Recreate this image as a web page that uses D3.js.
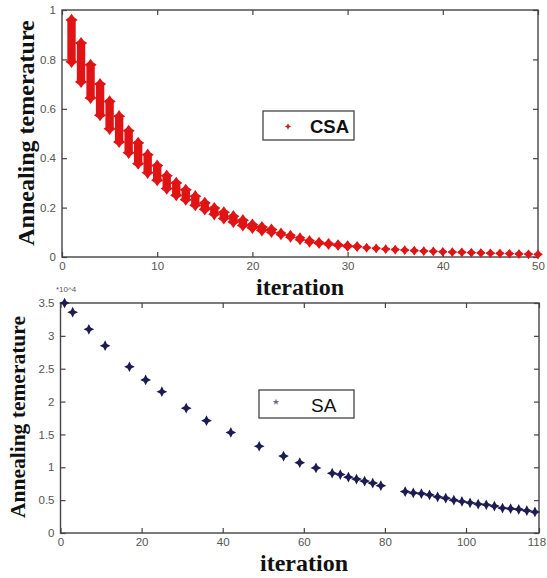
<!DOCTYPE html>
<html><head><meta charset="utf-8">
<script src="https://cdn.jsdelivr.net/npm/d3@7"></script>
<style>body{margin:0;background:#fff} svg{display:block}</style>
</head><body>
<svg id="c" width="547" height="578"></svg>
<script>
// ---- CSA (top): per-iteration range of annealing temperature across runs
const csaIter = [1,2,3,4,5,6,7,8,9,10,11,12,13,14,15,16,17,18,19,20,21,22,23,24,25,26,27,28,29,30,31,32,33,34,35,36,37,38,39,40,41,42,43,44,45,46,47,48,49,50];
const csaMax = [0.960,0.866,0.778,0.700,0.630,0.570,0.511,0.462,0.414,0.370,0.329,0.300,0.272,0.246,0.219,0.198,0.181,0.165,0.149,0.131,0.121,0.111,0.097,0.088,0.078,0.067,0.060,0.055,0.050,0.046,0.043,0.039,0.036,0.033,0.031,0.029,0.027,0.025,0.024,0.022,0.021,0.020,0.018,0.017,0.016,0.015,0.014,0.013,0.012,0.011];
const csaMin = [0.790,0.709,0.644,0.574,0.519,0.466,0.422,0.378,0.341,0.311,0.277,0.250,0.232,0.210,0.193,0.173,0.156,0.142,0.128,0.118,0.108,0.099,0.090,0.080,0.070,0.060,0.055,0.051,0.047,0.043,0.040,0.036,0.034,0.031,0.029,0.027,0.025,0.023,0.022,0.020,0.019,0.018,0.017,0.016,0.015,0.014,0.013,0.012,0.011,0.010];
const csaXTicks = [0,10,20,30,40,50];
const csaYTicks = [0,0.2,0.4,0.6,0.8,1];

// ---- SA (bottom): temperature (x 10^4) at recorded iterations
const saIter = [1,3,7,11,17,21,25,31,36,42,49,55,59,63,67,69,71,73,75,77,79,85,87,89,91,93,95,97,99,101,103,105,107,109,111,113,115,117];
const saTemp = [3.50,3.36,3.10,2.85,2.53,2.33,2.15,1.90,1.71,1.53,1.32,1.17,1.07,0.99,0.91,0.89,0.85,0.82,0.79,0.76,0.72,0.63,0.61,0.60,0.58,0.55,0.53,0.50,0.48,0.46,0.44,0.43,0.41,0.38,0.37,0.36,0.34,0.32];
const saXTicks = [0,20,40,60,80,100,118];
const saYTicks = [0,0.5,1,1.5,2,2.5,3,3.5];

const csaColor = "#e01414";
const saColor = "#1c1c52";
const frameColor = "#444";
const tickTextColor = "#555";

const svg = d3.select("#c");

// 4-pointed sparkle marker
function sparkleType(ratio) {
  return {
    draw(ctx, size) {
      const r = Math.sqrt(size) / 2, k = r * ratio;
      ctx.moveTo(0, -r); ctx.lineTo(k, -k); ctx.lineTo(r, 0); ctx.lineTo(k, k);
      ctx.lineTo(0, r); ctx.lineTo(-k, k); ctx.lineTo(-r, 0); ctx.lineTo(-k, -k); ctx.closePath();
    }
  };
}
const sparkle = sparkleType(0.34);

function frame(g, x, y, xTicks, yTicks, fmtX, fmtY) {
  const [x0, x1] = x.range(), [y0, y1] = y.range();
  g.append("rect").attr("x", x0).attr("y", y1).attr("width", x1 - x0).attr("height", y0 - y1)
    .attr("fill", "none").attr("stroke", frameColor).attr("stroke-width", 1.4);
  const bottom = g.append("g").attr("transform", `translate(0,${y0})`)
    .call(d3.axisBottom(x).tickValues(xTicks).tickSizeInner(-5).tickSizeOuter(0).tickPadding(5).tickFormat(fmtX));
  const top = g.append("g").attr("transform", `translate(0,${y1})`)
    .call(d3.axisTop(x).tickValues(xTicks).tickSizeInner(-5).tickSizeOuter(0).tickFormat(""));
  const left = g.append("g").attr("transform", `translate(${x0},0)`)
    .call(d3.axisLeft(y).tickValues(yTicks).tickSizeInner(-5).tickSizeOuter(0).tickPadding(6).tickFormat(fmtY));
  const right = g.append("g").attr("transform", `translate(${x1},0)`)
    .call(d3.axisRight(y).tickValues(yTicks).tickSizeInner(-5).tickSizeOuter(0).tickFormat(""));
  [bottom, top, left, right].forEach(a => {
    a.select(".domain").remove();
    a.selectAll("line").attr("stroke", frameColor).attr("stroke-width", 1.2);
    a.selectAll("text").attr("fill", tickTextColor).attr("font-family", "Liberation Sans, Arial, sans-serif").attr("font-size", 11.5);
  });
  return {bottom, left};
}

// ================= TOP: CSA =================
const x1s = d3.scaleLinear().domain([0, 50]).range([62, 538]);
const y1s = d3.scaleLinear().domain([0, 1]).range([257, 10]);
const gTop = svg.append("g");
frame(gTop, x1s, y1s, csaXTicks, csaYTicks, d3.format("d"), d => d === 0 || d === 1 ? d3.format("d")(d) : d3.format(".1f")(d));

const csaData = csaIter.map((it, i) => ({it, hi: csaMax[i], lo: csaMin[i]}));
const gC = gTop.append("g").attr("fill", csaColor);
gC.selectAll("rect.rng").data(csaData).join("rect").attr("class", "rng")
  .attr("x", d => x1s(d.it) - 4.2).attr("width", 8.4).attr("rx", 2)
  .attr("y", d => y1s(d.hi)).attr("height", d => y1s(d.lo) - y1s(d.hi));
const csaSym = d3.symbol().type(sparkleType(0.42)).size(d => d.v > 0.1 ? 150 : (d.v > 0.04 ? 120 : 85));
gC.selectAll("path.hi").data(csaData.map(d => ({it: d.it, v: d.hi}))).join("path").attr("class", "hi")
  .attr("transform", d => `translate(${x1s(d.it)},${y1s(d.v)})`).attr("d", csaSym);
gC.selectAll("path.lo").data(csaData.map(d => ({it: d.it, v: d.lo}))).join("path").attr("class", "lo")
  .attr("transform", d => `translate(${x1s(d.it)},${y1s(d.v)})`).attr("d", csaSym);

// legend
const lg1 = gTop.append("g");
lg1.append("rect").attr("x", 263).attr("y", 111).attr("width", 91).attr("height", 29)
  .attr("fill", "#fff").attr("stroke", frameColor).attr("stroke-width", 1.3);
lg1.append("path").attr("transform", "translate(288,126.5)").attr("fill", "#c02020")
  .attr("d", d3.symbol().type(sparkle).size(40)());
lg1.append("text").attr("x", 310).attr("y", 132.5).text("CSA")
  .attr("font-family", "Liberation Sans, Arial, sans-serif").attr("font-weight", "bold").attr("font-size", 18.5).attr("fill", "#111");

// axis titles
gTop.append("text").attr("transform", "translate(34,133) rotate(-90)").attr("text-anchor", "middle")
  .attr("font-family", "Liberation Serif, Times New Roman, serif").attr("font-weight", "bold").attr("font-size", 24)
  .attr("fill", "#111").text("Annealing temerature");
gTop.append("text").attr("x", 300).attr("y", 295).attr("text-anchor", "middle")
  .attr("font-family", "Liberation Serif, Times New Roman, serif").attr("font-weight", "bold").attr("font-size", 24)
  .attr("fill", "#111").text("iteration");

// ================= BOTTOM: SA =================
const x2s = d3.scaleLinear().domain([0, 118]).range([60.5, 539]);
const y2s = d3.scaleLinear().domain([0, 3.5]).range([533, 303]);
const gBot = svg.append("g");
const axB = frame(gBot, x2s, y2s, saXTicks, saYTicks, d3.format("d"), d => String(d));
axB.bottom.selectAll(".tick text").filter(d => d === 118).attr("dx", -2.5);

gBot.append("text").attr("x", 56).attr("y", 292).text("*10^4")
  .attr("font-family", "Liberation Sans, Arial, sans-serif").attr("font-size", 8).attr("fill", tickTextColor);

const saData = saIter.map((it, i) => ({it, v: saTemp[i]}));
gBot.append("g").attr("fill", saColor).selectAll("path").data(saData).join("path")
  .attr("transform", d => `translate(${x2s(d.it)},${y2s(d.v)})`)
  .attr("d", d3.symbol().type(sparkle).size(115));

const lg2 = gBot.append("g");
lg2.append("rect").attr("x", 259).attr("y", 390).attr("width", 95).attr("height", 28)
  .attr("fill", "#fff").attr("stroke", frameColor).attr("stroke-width", 1.3);
lg2.append("path").attr("transform", "translate(276,402)").attr("fill", "#6a6a8a")
  .attr("d", d3.symbol().type(d3.symbolStar).size(14)());
lg2.append("text").attr("x", 311).attr("y", 411.5).text("SA")
  .attr("font-family", "Liberation Sans, Arial, sans-serif").attr("font-size", 19).attr("fill", "#111");

gBot.append("text").attr("transform", "translate(25,417) rotate(-90)").attr("text-anchor", "middle")
  .attr("font-family", "Liberation Serif, Times New Roman, serif").attr("font-weight", "bold").attr("font-size", 21.5)
  .attr("fill", "#111").text("Annealing temerature");
gBot.append("text").attr("x", 304).attr("y", 571).attr("text-anchor", "middle")
  .attr("font-family", "Liberation Serif, Times New Roman, serif").attr("font-weight", "bold").attr("font-size", 24)
  .attr("fill", "#111").text("iteration");
</script>
</body></html>
